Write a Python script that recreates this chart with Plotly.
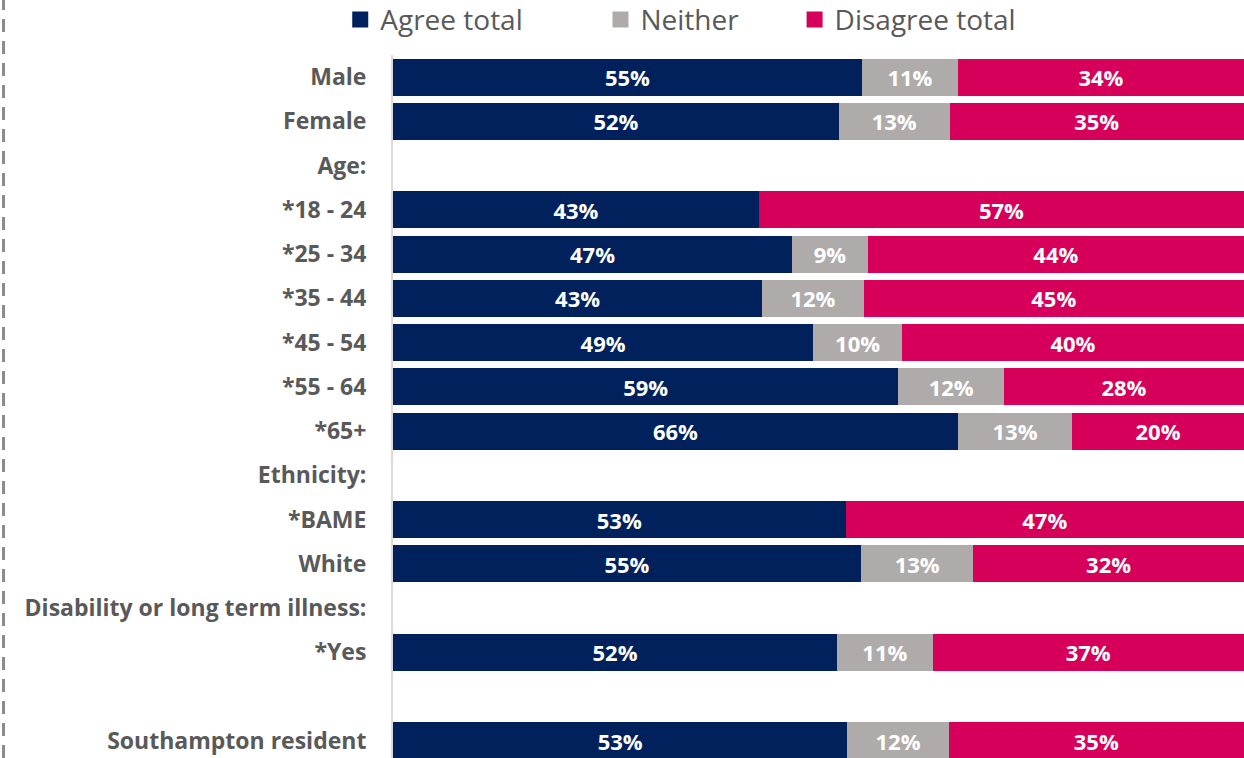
import plotly.graph_objects as go

# Rows from top to bottom (None = heading / spacer row with no bar)
categories = ["Male", "Female", "Age:", "*18 - 24", "*25 - 34", "*35 - 44", "*45 - 54",
              "*55 - 64", "*65+", "Ethnicity:", "*BAME", "White",
              "Disability or long term illness:", "*Yes", " ", "Southampton resident"]

agree = [55.1, 52.4, None, 43.0, 46.9, 43.4, 49.4, 59.4, 66.4, None, 53.2, 55.0, None, 52.2, None, 53.4]
neither = [11.3, 13.0, None, None, 8.9, 11.9, 10.4, 12.4, 13.4, None, None, 13.2, None, 11.2, None, 11.9]
disagree = [33.6, 34.6, None, 57.0, 44.2, 44.7, 40.2, 28.2, 20.2, None, 46.8, 31.8, None, 36.6, None, 34.7]

series = [
    ("Agree total", agree, "#00215B", 10),
    ("Neither", neither, "#AFABAB", 7),
    ("Disagree total", disagree, "#D6005A", 0),
]

fig = go.Figure()
for name, vals, col, pad in series:
    fig.add_trace(go.Bar(
        y=categories, x=vals, name=name, orientation="h",
        marker=dict(color=col, line=dict(width=0)),
        texttemplate="%{x:.0f}%", textposition="inside",
        insidetextanchor="middle", textangle=0,
        textfont=dict(family="Open Sans", size=22, color="white", weight="bold"),
        hoverinfo="skip", showlegend=False,
    ))
    # legend entry with a larger square swatch
    fig.add_trace(go.Scatter(
        x=[None], y=[None], mode="markers", name=name + "\u00a0" * pad,
        marker=dict(symbol="square", size=17, color=col),
        hoverinfo="skip",
    ))

fig.update_layout(
    width=1244, height=758,
    barmode="stack", bargap=0.163,
    plot_bgcolor="white", paper_bgcolor="white",
    margin=dict(l=393, r=0, t=55, b=0, autoexpand=False),
    font=dict(family="Open Sans", color="#595959"),
    legend=dict(
        orientation="h", xref="container", yref="container",
        x=0.2735, y=0.974, xanchor="left", yanchor="middle",
        font=dict(size=28, color="#595959"),
        traceorder="normal",
    ),
    xaxis=dict(range=[0, 100], visible=False, fixedrange=True),
    yaxis=dict(
        categoryorder="array", categoryarray=categories,
        range=[15.386, -0.5], showgrid=False, automargin=False,
        showline=True, linecolor="#D9D9D9", linewidth=2,
        ticks="", ticklabelstandoff=20, fixedrange=True,
        tickfont=dict(family="Open Sans", size=23, color="#595959", weight="bold"),
    ),
    shapes=[dict(
        type="line", xref="paper", yref="paper",
        x0=-0.4577, x1=-0.4577, y0=0, y1=1.08,
        line=dict(color="#8C8C8C", width=3, dash="13px,9px"),
    )],
)

fig.write_html("out.html", config={"displayModeBar": False},
               post_script="document.body.style.margin='0';")
